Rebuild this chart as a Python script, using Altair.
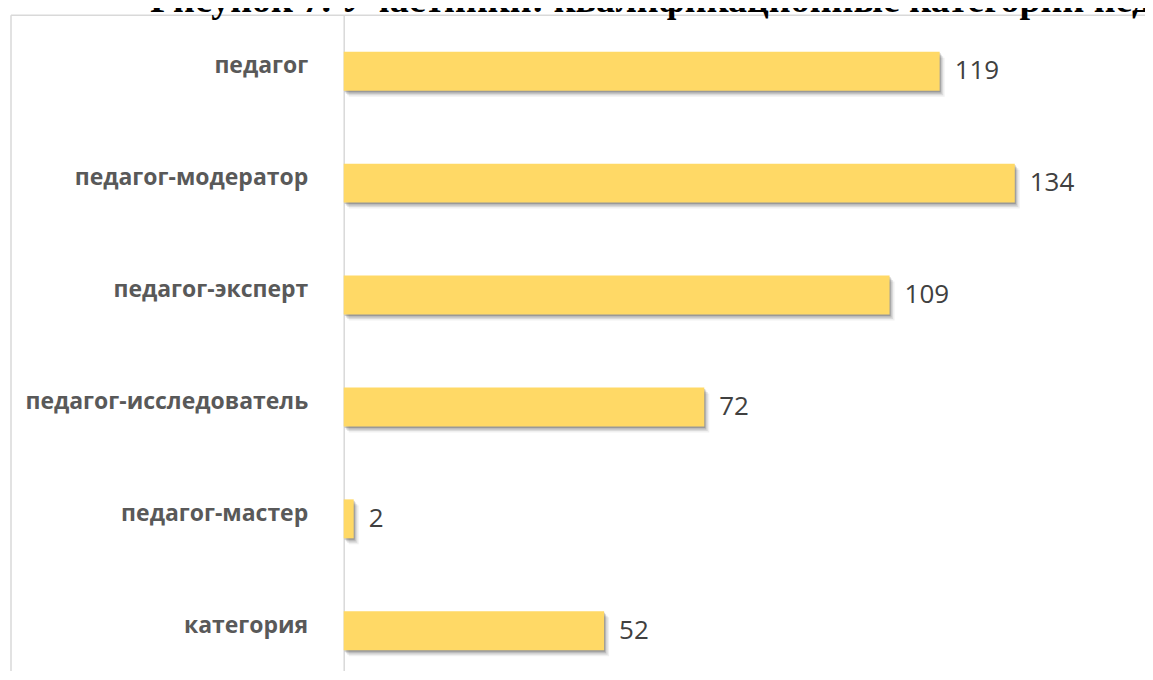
import altair as alt
import pandas as pd

categories = ["педагог", "педагог-модератор", "педагог-эксперт",
              "педагог-исследователь", "педагог-мастер", "категория"]
values = [119, 134, 109, 72, 2, 52]
title_text = "Рисунок 7. Участники: квалификационные категории педагогов"

df = pd.DataFrame({"cat": categories, "val": values})
one = pd.DataFrame({"t": [title_text]})

BAR = "#FFD966"
FRAME = "#D9D9D9"

y_enc = alt.Y("cat:N", sort=categories,
              scale=alt.Scale(range=[0, 672], paddingInner=0.652, paddingOuter=0.326),
              axis=alt.Axis(title=None, ticks=False, domainColor=FRAME, domainWidth=1.5,
                            labelFont="Open Sans", labelFontWeight="bold", labelFontSize=23,
                            labelColor="#595959", labelPadding=36, labelLimit=400,
                            labelOffset=-5))
x_enc = alt.X("val:Q", scale=alt.Scale(domain=[0, 160]), axis=None)

base = alt.Chart(df)

shadows = [
    base.mark_bar(color="#000000", opacity=0.06, xOffset=5, yOffset=6).encode(x=x_enc, y=y_enc),
    base.mark_bar(color="#000000", opacity=0.09, xOffset=3.5, yOffset=4.5).encode(x=x_enc, y=y_enc),
    base.mark_bar(color="#000000", opacity=0.14, xOffset=2, yOffset=3).encode(x=x_enc, y=y_enc),
    base.mark_bar(color="#000000", opacity=0.18, xOffset=1, yOffset=1.5).encode(x=x_enc, y=y_enc),
]

bars = base.mark_bar(color=BAR).encode(x=x_enc, y=y_enc)

labels = base.mark_text(align="left", baseline="middle", dx=15, font="Open Sans",
                        fontSize=26, color="#404040").encode(x=x_enc, y=y_enc, text="val:Q")

fchart = alt.Chart(one)
frame_h = fchart.mark_rule(color=FRAME, strokeWidth=1.5).encode(
    x=alt.value(-333), x2=alt.value(900), y=alt.value(0))
frame_v = fchart.mark_rule(color=FRAME, strokeWidth=1.5).encode(
    x=alt.value(-333), y=alt.value(0), y2=alt.value(700))

title = fchart.mark_text(align="left", baseline="alphabetic", font="Liberation Serif",
                         fontWeight="bold", fontSize=38, color="#000000").encode(
    x=alt.value(-194), y=alt.value(-3), text="t:N")

chart = alt.layer(frame_h, frame_v, *shadows, bars, labels, title).properties(
    width=802, height=656,
    autosize=alt.AutoSizeParams(type="none"),
    padding={"left": 336, "top": 7, "right": 0, "bottom": 0},
    background="white",
).configure_view(stroke=None)

chart.save("out.html", embed_options={"renderer": "svg", "actions": False})
